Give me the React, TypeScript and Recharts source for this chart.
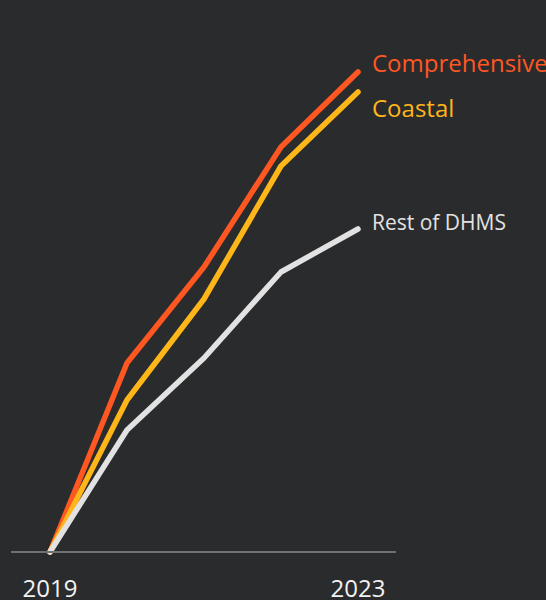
import React from 'react';
import { LineChart, Line, XAxis, YAxis } from 'recharts';

const years = [2019, 2020, 2021, 2022, 2023];
const comprehensive = [0, 37.8, 57, 81, 96];
const coastal = [0, 30.4, 50.6, 77.2, 92];
const restOfDHMS = [0, 24.4, 38.8, 56, 64.6];
const xTicks = [2019, 2023];

const series = [
  { key: 'comprehensive', name: 'Comprehensive', color: '#ff5722', size: 24, dy: 0 },
  { key: 'coastal', name: 'Coastal', color: '#ffb619', size: 24, dy: 25 },
  { key: 'rest', name: 'Rest of DHMS', color: '#e2e2e2', size: 21, dy: 1 },
];

const data = years.map((y, i) => ({
  year: y,
  comprehensive: comprehensive[i],
  coastal: coastal[i],
  rest: restOfDHMS[i],
}));

const FONT = '"Open Sans", "Noto Sans", sans-serif';
const BG = '#2a2b2d';

const makeLabel = (s: typeof series[number]) => (props: any) => {
  const { x, y, index } = props;
  if (index !== years.length - 1) return null;
  return (
    <text x={x + 14} y={y + s.dy} fill={s.color} fontSize={s.size} fontFamily={FONT}>
      {s.name}
    </text>
  );
};

const Tick = (props: any) => {
  const { x, y, payload } = props;
  return (
    <text x={x} y={y + 37} textAnchor="middle" fill="#f2f2f2" fontSize={24} fontFamily={FONT}>
      {payload.value}
    </text>
  );
};

export default function App() {
  return (
    <div style={{ position: 'fixed', left: 0, top: 0, width: 546, height: 600, background: BG }}>
      <LineChart
        width={546}
        height={600}
        data={data}
        margin={{ top: 52, right: 150, bottom: 0, left: 11 }}
      >
        <XAxis
          dataKey="year"
          type="number"
          domain={[2019, 2023]}
          ticks={xTicks}
          padding={{ left: 39, right: 38 }}
          height={48}
          axisLine={{ stroke: '#707070', strokeWidth: 2 }}
          tickLine={false}
          tick={<Tick />}
          interval={0}
        />
        <YAxis hide domain={[0, 100]} />
        {series.map((s) => (
          <Line
            key={s.key}
            dataKey={s.key}
            stroke={s.color}
            strokeWidth={5.5}
            strokeLinecap="round"
            strokeLinejoin="round"
            dot={false}
            activeDot={false}
            isAnimationActive={false}
            label={makeLabel(s)}
          />
        ))}
      </LineChart>
    </div>
  );
}
